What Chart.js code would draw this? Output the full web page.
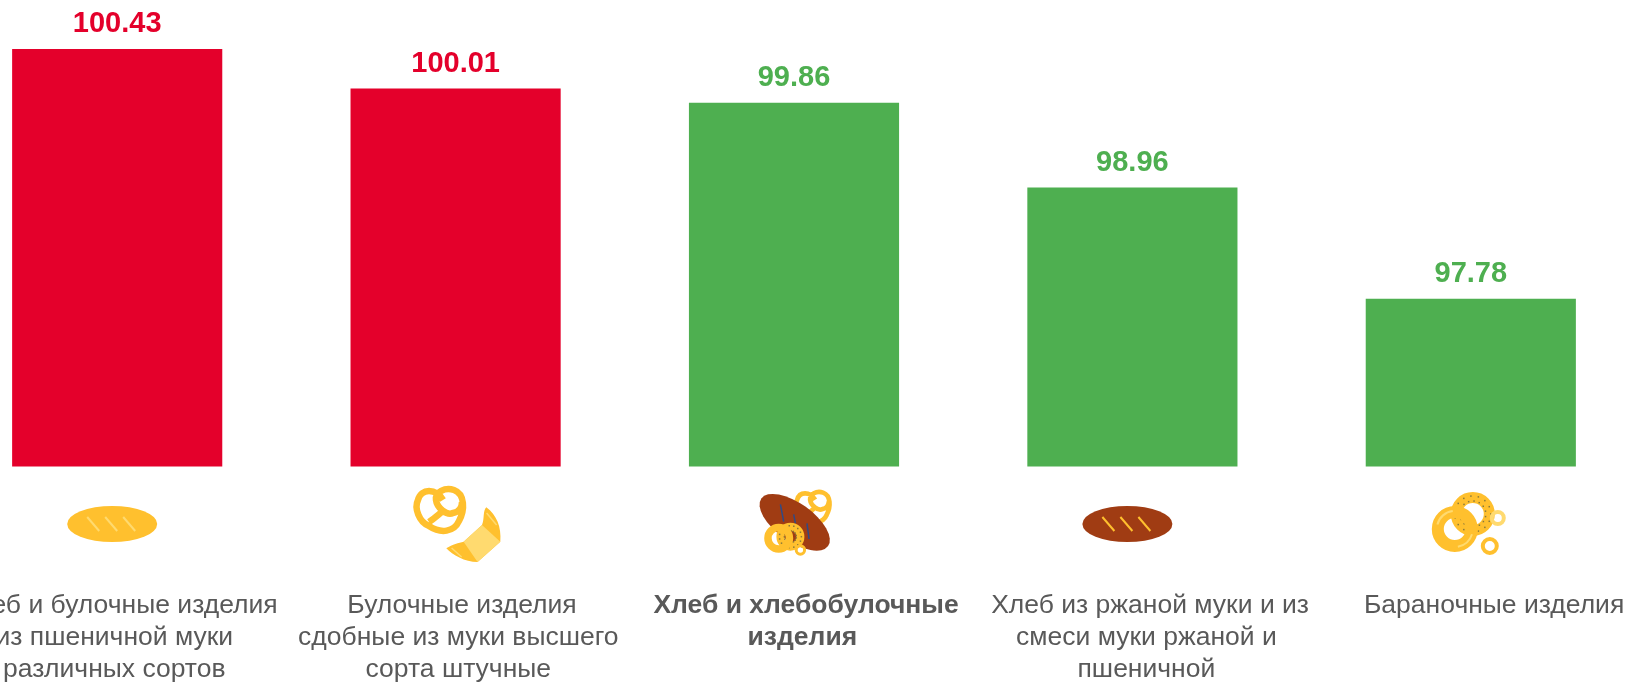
<!DOCTYPE html>
<html lang="ru">
<head>
<meta charset="utf-8">
<title>Хлеб и хлебобулочные изделия</title>
<script src="https://cdn.jsdelivr.net/npm/chart.js@4"></script>
<style>
    html, body { margin: 0; padding: 0; background: #fff; overflow: hidden; width: 1631px; height: 685px; }
    #wrap { position: absolute; left: -52px; top: 0; }
    canvas { display: block; }
</style>
</head>
<body>
<div id="wrap"><canvas id="breadChart" width="1692" height="685" style="width:1692px;height:685px"></canvas></div>
<script>
// Wrapped lines keep their trailing space, it shifts the centring a little
const categories = [
    ['Хлеб и булочные изделия', 'из пшеничной муки ', 'различных сортов '],
    ['Булочные изделия', 'сдобные из муки высшего ', 'сорта штучные '],
    ['Хлеб и хлебобулочные', 'изделия '],
    ['Хлеб из ржаной муки и из', 'смеси муки ржаной и ', 'пшеничной '],
    ['Бараночные изделия']
];
const values = [100.43, 100.01, 99.86, 98.96, 97.78];
const barColors = ['#E4002B', '#E4002B', '#4EAF50', '#4EAF50', '#4EAF50'];
const boldCategory = 2;

const YELLOW = '#FFC02E';
const PALE = '#FFDA6F';
const BROWN = '#A03C13';
const NAVY = '#2F4A86';

function ring(c, x, y, r, w, color) {
    c.beginPath();
    c.arc(x, y, r - w / 2, 0, Math.PI * 2);
    c.lineWidth = w;
    c.strokeStyle = color;
    c.stroke();
}

function slashes(c, points, color, w) {
    c.strokeStyle = color;
    c.lineWidth = w;
    points.forEach(p => {
        c.beginPath();
        c.moveTo(p[0], p[1]);
        c.lineTo(p[2], p[3]);
        c.stroke();
    });
}

function loaf(c, body, slash) {
    c.fillStyle = body;
    c.beginPath();
    c.ellipse(-5, 0, 45, 18, 0, 0, Math.PI * 2);
    c.fill();
    slashes(c, [[-30, -7, -18, 7], [-12, -7, 0, 7], [6, -7, 18, 7]], slash, 2);
}

function pretzel(c, x, y, s) {
    c.save();
    c.translate(x, y);
    c.scale(s, s);
    c.strokeStyle = YELLOW;
    c.lineWidth = 6.5;
    c.beginPath();
    c.moveTo(2, -10);
    c.bezierCurveTo(-5, -22, -20, -22, -23, -10);
    c.bezierCurveTo(-27, -2, -22, 12, -12, 16);
    c.bezierCurveTo(0, 24, 13, 22, 18, 11);
    c.bezierCurveTo(24, 0, 24, -16, 13, -20);
    c.bezierCurveTo(4, -23, -6, -18, -5, -10);
    c.bezierCurveTo(-4, -2, 6, 6, 12, 3);
    c.bezierCurveTo(18, 2, 21, -3, 21, -8);
    c.moveTo(-12, 12);
    c.bezierCurveTo(-6, 8, -2, 4, 2, 1);
    c.stroke();
    c.restore();
}

function croissant(c, x, y) {
    c.save();
    c.translate(x, y);
    c.fillStyle = YELLOW;
    c.beginPath();
    c.moveTo(13.7, -27.7);
    c.bezierCurveTo(24, -20, 29, -8, 27.7, 6.7);
    c.lineTo(5, 27);
    c.bezierCurveTo(-8, 27, -20, 20, -26.3, 13.3);
    c.bezierCurveTo(-20, 9, -14, 8, -9, 6.7);
    c.lineTo(9.4, -10);
    c.bezierCurveTo(12, -16, 10, -24, 13.7, -27.7);
    c.closePath();
    c.fill();
    c.fillStyle = PALE;
    c.beginPath();
    c.moveTo(9.4, -10);
    c.lineTo(27.7, 6.7);
    c.lineTo(5, 27);
    c.lineTo(-9, 6.7);
    c.closePath();
    c.fill();
    slashes(c, [[14, -22, 24, -10], [-21, 13, -11, 22]], PALE, 1.5);
    c.restore();
}

function bagelSeeds(c, x, y, r) {
    c.fillStyle = '#8A7A3A';
    for (let a = 0; a < 360; a += 24) {
        const t = a * Math.PI / 180;
        c.fillRect(x + Math.cos(t) * r - 0.75, y + Math.sin(t) * r - 0.75, 1.5, 1.5);
        c.fillRect(x + Math.cos(t + 0.2) * (r - 5) - 0.75, y + Math.sin(t + 0.2) * (r - 5) - 0.75, 1.5, 1.5);
    }
}

const icons = [
    c => loaf(c, YELLOW, PALE),
    c => {
        pretzel(c, -14.6, -14, 1);
        croissant(c, 17, 11);
    },
    c => {
        pretzel(c, 19.7, -17, 0.72);
        c.save();
        c.translate(0.7, -1.7);
        c.rotate(0.62);
        c.fillStyle = BROWN;
        c.beginPath();
        c.ellipse(0, 0, 41, 19, 0, 0, Math.PI * 2);
        c.fill();
        c.restore();
        slashes(c, [[-13.6, -19.7, -10.3, -2.3], [-0.3, -9.7, 1.4, -0.7], [13, -0.7, 15, 15]], NAVY, 1.5);
        ring(c, -3.6, 12.7, 14, 8, YELLOW);
        bagelSeeds(c, -3.6, 12.7, 11);
        ring(c, -15.3, 14.3, 14.5, 7.5, YELLOW);
        ring(c, 6.4, 26, 5.7, 3, YELLOW);
    },
    c => loaf(c, BROWN, YELLOW),
    c => {
        ring(c, 2, -10, 22, 11, YELLOW);
        bagelSeeds(c, 2, -10, 18);
        ring(c, -16, 5, 23, 12, YELLOW);
        c.beginPath();
        c.arc(-16, 5, 18, 3.4, 4.6);
        c.lineWidth = 2;
        c.strokeStyle = PALE;
        c.stroke();
        c.beginPath();
        c.arc(-16, 5, 18, 0.3, 1.4);
        c.stroke();
        ring(c, 27, -6, 8, 4, PALE);
        ring(c, 19, 22, 9, 4, YELLOW);
    }
];

// Value captions above the bars
const barValuesPlugin = {
    id: 'barValues',
    afterDatasetsDraw(chart) {
        const c = chart.ctx;
        c.save();
        c.font = 'bold 29px "Liberation Sans", Arial, sans-serif';
        c.textAlign = 'center';
        c.textBaseline = 'alphabetic';
        chart.getDatasetMeta(0).data.forEach((bar, i) => {
            c.fillStyle = barColors[i];
            c.fillText(values[i].toFixed(2), bar.x, bar.y - 17);
        });
        c.restore();
    }
};

// Small pictures between the bars and the captions
const iconsPlugin = {
    id: 'categoryIcons',
    afterDraw(chart) {
        const c = chart.ctx;
        const x = chart.scales.x;
        icons.forEach((draw, i) => {
            c.save();
            c.translate(x.getPixelForValue(i), chart.chartArea.bottom + 57.5);
            draw(c);
            c.restore();
        });
    }
};

new Chart(document.getElementById('breadChart').getContext('2d'), {
    type: 'bar',
    data: {
        labels: categories.map(l => l.join(' ')),
        datasets: [{
            data: values,
            backgroundColor: barColors,
            borderWidth: 0,
            barPercentage: 0.621,
            categoryPercentage: 1
        }]
    },
    options: {
        responsive: false,
        animation: false,
        layout: { padding: 0 },
        plugins: { legend: { display: false }, tooltip: { enabled: false } },
        scales: {
            y: { display: false, min: 96, max: 100.95 },
            x: { display: false },
            captions: {
                axis: 'x',
                type: 'linear',
                position: 'bottom',
                offset: false,
                min: -0.494,
                max: 4.424,
                grid: { display: false, drawTicks: false, offset: false },
                border: { display: false },
                afterBuildTicks: scale => {
                    scale.ticks = categories.map((_, i) => ({ value: i }));
                },
                afterFit: scale => {
                    // labels may run past the canvas edge, no side padding
                    scale.height = 218.5;
                    scale.paddingLeft = 0;
                    scale.paddingRight = 0;
                },
                ticks: {
                    autoSkip: false,
                    maxRotation: 0,
                    minRotation: 0,
                    padding: 123,
                    color: '#595959',
                    font: ctx => ({
                        family: '"Liberation Sans", Arial, sans-serif',
                        size: 26.5,
                        weight: ctx.index === boldCategory ? 'bold' : 'normal',
                        lineHeight: 1.215
                    }),
                    callback: (v, i) => categories[i]
                }
            }
        }
    },
    plugins: [barValuesPlugin, iconsPlugin]
});
</script>
</body>
</html>
